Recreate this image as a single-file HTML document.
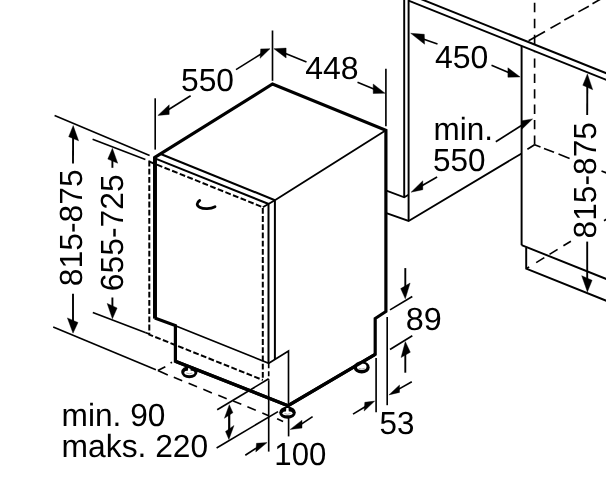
<!DOCTYPE html>
<html><head><meta charset="utf-8"><title>Dimensions</title>
<style>
html,body{margin:0;padding:0;background:#fff;}
svg{display:block;}
svg{will-change:transform;}
text{text-rendering:geometricPrecision;font-family:"Liberation Sans",Arial,Helvetica,sans-serif;fill:#000;}
</style></head><body>
<svg width="606" height="483" viewBox="0 0 606 483">
<rect width="606" height="483" fill="#fff"/>
<path d="M404.2 -2.0 L404.2 197.2" fill="none" stroke="#000" stroke-width="1.95" stroke-linecap="butt" stroke-linejoin="miter"/>
<path d="M408.6 -2.0 L408.6 220.9" fill="none" stroke="#000" stroke-width="1.95" stroke-linecap="butt" stroke-linejoin="miter"/>
<path d="M408.6 0.7 L610.0 81.3" fill="none" stroke="#000" stroke-width="1.95" stroke-linecap="butt" stroke-linejoin="miter"/>
<path d="M421.0 -0.9 L610.0 74.7" fill="none" stroke="#000" stroke-width="1.95" stroke-linecap="butt" stroke-linejoin="miter"/>
<path d="M521.6 45.9 L521.6 245.2" fill="none" stroke="#000" stroke-width="1.95" stroke-linecap="butt" stroke-linejoin="miter"/>
<path d="M385.7 190.4 L404.2 197.3 L408.6 194.8" fill="none" stroke="#000" stroke-width="1.8" stroke-linecap="butt" stroke-linejoin="miter"/>
<path d="M385.7 212.9 L408.6 220.9 L521.6 153.4" fill="none" stroke="#000" stroke-width="1.8" stroke-linecap="butt" stroke-linejoin="miter"/>
<path d="M521.6 245.1 L610.0 280.5" fill="none" stroke="#000" stroke-width="1.95" stroke-linecap="butt" stroke-linejoin="miter"/>
<path d="M526.2 247.2 L526.2 268.7 L610.0 302.2" fill="none" stroke="#000" stroke-width="1.95" stroke-linecap="butt" stroke-linejoin="miter"/>
<path d="M534.6 144.7 L534.6 52.0" fill="none" stroke="#000" stroke-width="1.65" stroke-linecap="butt" stroke-linejoin="miter" stroke-dasharray="9.3 6.1"/>
<path d="M534.6 44.3 L534.6 -2.0" fill="none" stroke="#000" stroke-width="1.65" stroke-linecap="butt" stroke-linejoin="miter" stroke-dasharray="9.5 6.5"/>
<path d="M528.6 40.8 L545.0 31.5" fill="none" stroke="#000" stroke-width="1.65" stroke-linecap="butt" stroke-linejoin="miter"/>
<path d="M550.5 28.2 L560.6 22.6" fill="none" stroke="#000" stroke-width="1.65" stroke-linecap="butt" stroke-linejoin="miter"/>
<path d="M564.3 20.0 L573.9 14.9" fill="none" stroke="#000" stroke-width="1.65" stroke-linecap="butt" stroke-linejoin="miter"/>
<path d="M578.4 11.9 L588.8 6.2" fill="none" stroke="#000" stroke-width="1.65" stroke-linecap="butt" stroke-linejoin="miter"/>
<path d="M592.5 3.7 L600.5 -0.8" fill="none" stroke="#000" stroke-width="1.65" stroke-linecap="butt" stroke-linejoin="miter"/>
<path d="M527.4 149.3 L534.6 144.7" fill="none" stroke="#000" stroke-width="1.65" stroke-linecap="butt" stroke-linejoin="miter"/>
<path d="M534.6 144.7 L540.5 147.0" fill="none" stroke="#000" stroke-width="1.65" stroke-linecap="butt" stroke-linejoin="miter"/>
<path d="M544.0 148.4 L554.0 152.3" fill="none" stroke="#000" stroke-width="1.65" stroke-linecap="butt" stroke-linejoin="miter"/>
<path d="M558.5 154.1 L569.6 158.5" fill="none" stroke="#000" stroke-width="1.65" stroke-linecap="butt" stroke-linejoin="miter"/>
<path d="M601.5 171.0 L610.0 174.3" fill="none" stroke="#000" stroke-width="1.65" stroke-linecap="butt" stroke-linejoin="miter"/>
<path d="M527.0 268.3 L529.2 266.9" fill="none" stroke="#000" stroke-width="1.65" stroke-linecap="butt" stroke-linejoin="miter"/>
<path d="M536.2 262.6 L544.3 257.6" fill="none" stroke="#000" stroke-width="1.65" stroke-linecap="butt" stroke-linejoin="miter"/>
<path d="M549.5 254.4 L557.6 249.4" fill="none" stroke="#000" stroke-width="1.65" stroke-linecap="butt" stroke-linejoin="miter"/>
<path d="M563.4 245.8 L570.9 241.2" fill="none" stroke="#000" stroke-width="1.65" stroke-linecap="butt" stroke-linejoin="miter"/>
<path d="M604.0 220.8 L610.0 217.1" fill="none" stroke="#000" stroke-width="1.65" stroke-linecap="butt" stroke-linejoin="miter"/>
<path d="M149.3 160.6 L149.3 334.6 L262.8 380.0" fill="none" stroke="#000" stroke-width="2.0" stroke-linecap="butt" stroke-linejoin="miter" stroke-dasharray="5.8 2.4"/>
<path d="M149.3 161.6 L262.8 207.2 L262.8 380.0" fill="none" stroke="#000" stroke-width="2.0" stroke-linecap="butt" stroke-linejoin="miter" stroke-dasharray="5.8 2.4"/>
<path d="M160.1 153.7 L274.9 200.2" fill="none" stroke="#000" stroke-width="2.1" stroke-linecap="butt" stroke-linejoin="miter"/>
<path d="M154.9 158.4 L268.7 204.0" fill="none" stroke="#000" stroke-width="2.1" stroke-linecap="butt" stroke-linejoin="miter"/>
<path d="M262.8 207.3 L274.9 200.2 L385.9 130.3" fill="none" stroke="#000" stroke-width="1.85" stroke-linecap="butt" stroke-linejoin="miter"/>
<path d="M274.9 200.2 L274.9 359.2" fill="none" stroke="#000" stroke-width="2.0" stroke-linecap="butt" stroke-linejoin="miter"/>
<path d="M268.5 204.0 L268.5 363.3" fill="none" stroke="#000" stroke-width="2.0" stroke-linecap="butt" stroke-linejoin="miter"/>
<path d="M268.7 363.3 L268.7 380.5" fill="none" stroke="#000" stroke-width="1.65" stroke-linecap="butt" stroke-linejoin="miter" stroke-dasharray="5 3"/>
<path d="M268.7 380.5 L268.7 451.6" fill="none" stroke="#000" stroke-width="1.65" stroke-linecap="butt" stroke-linejoin="miter"/>
<path d="M175.4 325.7 L268.7 363.3 L288.5 351.0 L288.5 405.0" fill="none" stroke="#000" stroke-width="1.65" stroke-linecap="butt" stroke-linejoin="miter"/>
<path d="M288.6 417.5 L288.6 436.4" fill="none" stroke="#000" stroke-width="1.65" stroke-linecap="butt" stroke-linejoin="miter"/>
<path d="M154.8 318.0 L154.8 157.4 L272.5 84.0 L385.9 130.3 L385.9 311.5 L375.2 318.5 L375.2 354.4 L288.0 405.7 L175.4 361.3 L175.4 325.6 L154.8 318.0" fill="none" stroke="#000" stroke-width="3.2" stroke-linecap="butt" stroke-linejoin="miter"/>
<path d="M155.0 157.0 L155.0 318.6" fill="none" stroke="#000" stroke-width="3.9" stroke-linecap="butt" stroke-linejoin="miter"/>
<path d="M199.7 200.5 C196.4 202.6 196.4 205.6 199.6 207.2 C203.8 209.3 210.6 209.0 215.0 206.7" fill="none" stroke="#000" stroke-width="2.8" stroke-linecap="round"/>
<ellipse cx="189.35" cy="372.1" rx="8.15" ry="6.2" fill="#000"/>
<ellipse cx="189.35" cy="372.8" rx="5.1" ry="2.4" fill="#fff"/>
<path d="M188.15 367.6 L190.35 367.6 L190.65 371.6 L187.85 371.6Z" fill="#fff"/>
<path d="M186.35 373.0 Q189.35 374.5 192.35 373.0" fill="none" stroke="#999" stroke-width="0.8"/>
<ellipse cx="287.5" cy="412.6" rx="8.3" ry="6.2" fill="#000"/>
<ellipse cx="287.5" cy="413.3" rx="5.0" ry="2.0" fill="#fff"/>
<path d="M286.3 408.1 L288.5 408.1 L288.8 412.1 L286.0 412.1Z" fill="#fff"/>
<path d="M284.5 413.5 Q287.5 415.0 290.5 413.5" fill="none" stroke="#999" stroke-width="0.8"/>
<ellipse cx="361.7" cy="367.4" rx="8.0" ry="6.2" fill="#000"/>
<ellipse cx="361.7" cy="366.79999999999995" rx="4.8" ry="3.2" fill="#fff"/>
<path d="M360.5 362.9 L362.7 362.9 L363.0 366.9 L360.2 366.9Z" fill="#fff"/>
<path d="M358.7 368.29999999999995 Q361.7 369.79999999999995 364.7 368.29999999999995" fill="none" stroke="#999" stroke-width="0.8"/>
<path d="M175.4 361.3 L288.0 405.7 L375.2 354.4" fill="none" stroke="#000" stroke-width="3.2" stroke-linecap="butt" stroke-linejoin="miter"/>
<path d="M155.2 98.3 L155.2 149.6" fill="none" stroke="#000" stroke-width="1.65" stroke-linecap="butt" stroke-linejoin="miter"/>
<path d="M272.5 30.5 L272.5 80.8" fill="none" stroke="#000" stroke-width="1.65" stroke-linecap="butt" stroke-linejoin="miter"/>
<path d="M385.9 68.8 L385.9 126.2" fill="none" stroke="#000" stroke-width="1.65" stroke-linecap="butt" stroke-linejoin="miter"/>
<text x="181.0" y="90.5" font-size="32" text-anchor="start" textLength="53.0" lengthAdjust="spacingAndGlyphs">550</text>
<text x="305.2" y="79.1" font-size="32" text-anchor="start" textLength="53.4" lengthAdjust="spacingAndGlyphs">448</text>
<text x="435.0" y="68.2" font-size="32" text-anchor="start" textLength="53.4" lengthAdjust="spacingAndGlyphs">450</text>
<text x="433.6" y="139.9" font-size="32" text-anchor="start" textLength="59.5" lengthAdjust="spacingAndGlyphs">min.</text>
<text x="433.0" y="170.6" font-size="32" text-anchor="start" textLength="52.5" lengthAdjust="spacingAndGlyphs">550</text>
<rect x="572" y="120" width="26" height="119" fill="#fff"/>
<text x="596.4" y="238.4" font-size="32" text-anchor="start" textLength="116.4" lengthAdjust="spacingAndGlyphs" transform="rotate(-90 596.4 238.4)">815-875</text>
<path d="M54.6 115.5 L149.6 155.6" fill="none" stroke="#000" stroke-width="1.65" stroke-linecap="butt" stroke-linejoin="miter"/>
<path d="M92.6 139.2 L145.4 159.4" fill="none" stroke="#000" stroke-width="1.65" stroke-linecap="butt" stroke-linejoin="miter"/>
<path d="M92.8 312.4 L145.2 332.4" fill="none" stroke="#000" stroke-width="1.65" stroke-linecap="butt" stroke-linejoin="miter"/>
<path d="M145.2 332.4 L149.3 334.0" fill="none" stroke="#000" stroke-width="1.65" stroke-linecap="butt" stroke-linejoin="miter"/>
<path d="M53.2 327.0 L155.9 369.7" fill="none" stroke="#000" stroke-width="1.65" stroke-linecap="butt" stroke-linejoin="miter"/>
<path d="M157.9 370.4 L167.8 374.9" fill="none" stroke="#000" stroke-width="1.65" stroke-linecap="butt" stroke-linejoin="miter"/>
<path d="M173.8 377.3 L182.2 380.8" fill="none" stroke="#000" stroke-width="1.65" stroke-linecap="butt" stroke-linejoin="miter"/>
<path d="M188.6 383.3 L197.0 386.7" fill="none" stroke="#000" stroke-width="1.65" stroke-linecap="butt" stroke-linejoin="miter"/>
<path d="M203.3 389.3 L211.9 392.9" fill="none" stroke="#000" stroke-width="1.65" stroke-linecap="butt" stroke-linejoin="miter"/>
<path d="M218.3 395.3 L226.7 398.7" fill="none" stroke="#000" stroke-width="1.65" stroke-linecap="butt" stroke-linejoin="miter"/>
<path d="M233.2 400.9 L241.3 404.3" fill="none" stroke="#000" stroke-width="1.65" stroke-linecap="butt" stroke-linejoin="miter"/>
<path d="M247.4 406.8 L255.8 410.3" fill="none" stroke="#000" stroke-width="1.65" stroke-linecap="butt" stroke-linejoin="miter"/>
<path d="M262.3 413.1 L268.7 415.8" fill="none" stroke="#000" stroke-width="1.65" stroke-linecap="butt" stroke-linejoin="miter"/>
<path d="M277.1 418.8 L283.1 421.5" fill="none" stroke="#000" stroke-width="1.65" stroke-linecap="butt" stroke-linejoin="miter"/>
<path d="M157.9 370.4 L165.3 366.7" fill="none" stroke="#000" stroke-width="1.65" stroke-linecap="butt" stroke-linejoin="miter"/>
<path d="M170.6 363.0 L172.0 362.2" fill="none" stroke="#000" stroke-width="1.65" stroke-linecap="butt" stroke-linejoin="miter"/>
<text x="81.8" y="286.2" font-size="32" text-anchor="start" textLength="116.8" lengthAdjust="spacingAndGlyphs" transform="rotate(-90 81.8 286.2)">815-875</text>
<text x="122.9" y="291.2" font-size="32" text-anchor="start" textLength="116.8" lengthAdjust="spacingAndGlyphs" transform="rotate(-90 122.9 291.2)">655-725</text>
<path d="M268.7 378.8 L217.2 409.8" fill="none" stroke="#000" stroke-width="1.65" stroke-linecap="butt" stroke-linejoin="miter"/>
<path d="M278.0 411.6 L216.6 448.0" fill="none" stroke="#000" stroke-width="1.65" stroke-linecap="butt" stroke-linejoin="miter"/>
<text x="274.3" y="464.9" font-size="32" text-anchor="start" textLength="52.0" lengthAdjust="spacingAndGlyphs">100</text>
<text x="61.6" y="425.7" font-size="32" text-anchor="start" textLength="103.8" lengthAdjust="spacingAndGlyphs">min. 90</text>
<text x="61.6" y="456.9" font-size="32" text-anchor="start" textLength="146.6" lengthAdjust="spacingAndGlyphs">maks. 220</text>
<path d="M387.2 317.0 L387.2 405.2" fill="none" stroke="#000" stroke-width="1.65" stroke-linecap="butt" stroke-linejoin="miter"/>
<path d="M376.1 358.0 L376.1 412.2" fill="none" stroke="#000" stroke-width="1.65" stroke-linecap="butt" stroke-linejoin="miter"/>
<path d="M390.0 309.9 L412.3 296.5" fill="none" stroke="#000" stroke-width="1.65" stroke-linecap="butt" stroke-linejoin="miter"/>
<path d="M390.0 349.5 L412.3 335.8" fill="none" stroke="#000" stroke-width="1.65" stroke-linecap="butt" stroke-linejoin="miter"/>
<text x="405.8" y="330.3" font-size="32" text-anchor="start" textLength="36" lengthAdjust="spacingAndGlyphs">89</text>
<text x="379.6" y="434.0" font-size="32" text-anchor="start" textLength="34.9" lengthAdjust="spacingAndGlyphs">53</text>
<polygon points="157.9,115.4 169.2,104.8 169.2,114.4" fill="#000" stroke="#000" stroke-width="0.4" stroke-linejoin="miter"/>
<path d="M167.5 110.2 L190.6 95.8" fill="none" stroke="#000" stroke-width="1.65" stroke-linecap="butt" stroke-linejoin="miter"/>
<polygon points="270.0,48.7 260.7,48.9 260.1,58.3" fill="#000" stroke="#000" stroke-width="0.4" stroke-linejoin="miter"/>
<path d="M261.8 53.5 L236.0 69.6" fill="none" stroke="#000" stroke-width="1.65" stroke-linecap="butt" stroke-linejoin="miter"/>
<polygon points="273.9,48.7 286.1,48.1 286.1,58.0" fill="#000" stroke="#000" stroke-width="0.4" stroke-linejoin="miter"/>
<path d="M284.3 53.1 L306.5 62.0" fill="none" stroke="#000" stroke-width="1.65" stroke-linecap="butt" stroke-linejoin="miter"/>
<polygon points="385.0,93.2 373.2,84.0 373.2,93.5" fill="#000" stroke="#000" stroke-width="0.4" stroke-linejoin="miter"/>
<path d="M375.0 89.4 L357.5 82.3" fill="none" stroke="#000" stroke-width="1.65" stroke-linecap="butt" stroke-linejoin="miter"/>
<polygon points="410.7,33.3 424.3,34.3 424.6,44.2" fill="#000" stroke="#000" stroke-width="0.4" stroke-linejoin="miter"/>
<path d="M422.4 38.8 L437.5 44.0" fill="none" stroke="#000" stroke-width="1.65" stroke-linecap="butt" stroke-linejoin="miter"/>
<polygon points="520.1,76.9 507.9,67.8 507.9,77.2" fill="#000" stroke="#000" stroke-width="0.4" stroke-linejoin="miter"/>
<path d="M509.7 73.0 L491.5 65.2" fill="none" stroke="#000" stroke-width="1.65" stroke-linecap="butt" stroke-linejoin="miter"/>
<polygon points="411.1,192.2 422.8,180.8 422.8,189.7" fill="#000" stroke="#000" stroke-width="0.4" stroke-linejoin="miter"/>
<path d="M421.0 186.3 L437.1 177.0" fill="none" stroke="#000" stroke-width="1.65" stroke-linecap="butt" stroke-linejoin="miter"/>
<polygon points="532.6,118.9 521.7,120.8 521.9,129.3" fill="#000" stroke="#000" stroke-width="0.4" stroke-linejoin="miter"/>
<path d="M523.4 124.3 L495.8 141.8" fill="none" stroke="#000" stroke-width="1.65" stroke-linecap="butt" stroke-linejoin="miter"/>
<polygon points="587.4,73.9 582.8,85.3 592.7,89.7" fill="#000" stroke="#000" stroke-width="0.4" stroke-linejoin="miter"/>
<path d="M587.3 85.3 L587.2 115.0" fill="none" stroke="#000" stroke-width="1.9" stroke-linecap="butt" stroke-linejoin="miter"/>
<polygon points="587.4,291.9 581.7,275.7 592.1,280.3" fill="#000" stroke="#000" stroke-width="0.4" stroke-linejoin="miter"/>
<path d="M587.2 280.2 L587.2 241.6" fill="none" stroke="#000" stroke-width="1.9" stroke-linecap="butt" stroke-linejoin="miter"/>
<polygon points="73.2,125.6 68.7,136.7 78.6,140.8" fill="#000" stroke="#000" stroke-width="0.4" stroke-linejoin="miter"/>
<path d="M73.1 136.6 L73.0 163.4" fill="none" stroke="#000" stroke-width="1.9" stroke-linecap="butt" stroke-linejoin="miter"/>
<polygon points="112.4,148.3 107.8,159.1 117.7,163.2" fill="#000" stroke="#000" stroke-width="0.4" stroke-linejoin="miter"/>
<path d="M112.4 159.1 L112.4 167.8" fill="none" stroke="#000" stroke-width="1.9" stroke-linecap="butt" stroke-linejoin="miter"/>
<polygon points="73.0,333.2 67.4,317.9 78.0,322.5" fill="#000" stroke="#000" stroke-width="0.4" stroke-linejoin="miter"/>
<path d="M73.0 322.3 L73.0 293.7" fill="none" stroke="#000" stroke-width="1.9" stroke-linecap="butt" stroke-linejoin="miter"/>
<polygon points="112.4,318.8 107.2,303.4 117.1,308.0" fill="#000" stroke="#000" stroke-width="0.4" stroke-linejoin="miter"/>
<path d="M112.4 307.8 L112.4 297.5" fill="none" stroke="#000" stroke-width="1.9" stroke-linecap="butt" stroke-linejoin="miter"/>
<polygon points="229.3,404.7 224.4,418.3 232.9,412.7" fill="#000" stroke="#000" stroke-width="0.4" stroke-linejoin="miter"/>
<path d="M229.2 413.6 L229.2 422.0" fill="none" stroke="#000" stroke-width="2.2" stroke-linecap="butt" stroke-linejoin="miter"/>
<polygon points="228.9,439.4 225.5,431.4 234.0,425.5" fill="#000" stroke="#000" stroke-width="0.4" stroke-linejoin="miter"/>
<path d="M229.2 430.4 L229.2 422.0" fill="none" stroke="#000" stroke-width="2.2" stroke-linecap="butt" stroke-linejoin="miter"/>
<polygon points="267.1,442.6 256.5,443.3 255.8,451.9" fill="#000" stroke="#000" stroke-width="0.4" stroke-linejoin="miter"/>
<path d="M257.8 447.2 L245.3 455.2" fill="none" stroke="#000" stroke-width="1.65" stroke-linecap="butt" stroke-linejoin="miter"/>
<polygon points="290.2,429.4 302.0,420.2 302.0,428.1" fill="#000" stroke="#000" stroke-width="0.4" stroke-linejoin="miter"/>
<path d="M300.2 424.9 L312.6 416.6" fill="none" stroke="#000" stroke-width="1.65" stroke-linecap="butt" stroke-linejoin="miter"/>
<polygon points="405.3,298.8 400.7,288.6 410.1,283.0" fill="#000" stroke="#000" stroke-width="0.4" stroke-linejoin="miter"/>
<path d="M405.3 287.8 L405.3 268.1" fill="none" stroke="#000" stroke-width="1.9" stroke-linecap="butt" stroke-linejoin="miter"/>
<polygon points="405.3,341.6 401.1,357.5 410.3,352.2" fill="#000" stroke="#000" stroke-width="0.4" stroke-linejoin="miter"/>
<path d="M405.3 353.0 L405.3 372.7" fill="none" stroke="#000" stroke-width="1.9" stroke-linecap="butt" stroke-linejoin="miter"/>
<polygon points="374.7,401.1 364.8,402.3 364.2,411.0" fill="#000" stroke="#000" stroke-width="0.4" stroke-linejoin="miter"/>
<path d="M366.0 406.2 L353.0 414.1" fill="none" stroke="#000" stroke-width="1.65" stroke-linecap="butt" stroke-linejoin="miter"/>
<polygon points="388.9,394.9 399.5,385.0 399.5,392.4" fill="#000" stroke="#000" stroke-width="0.4" stroke-linejoin="miter"/>
<path d="M397.9 389.6 L411.8 381.7" fill="none" stroke="#000" stroke-width="1.65" stroke-linecap="butt" stroke-linejoin="miter"/>
</svg>
</body></html>
